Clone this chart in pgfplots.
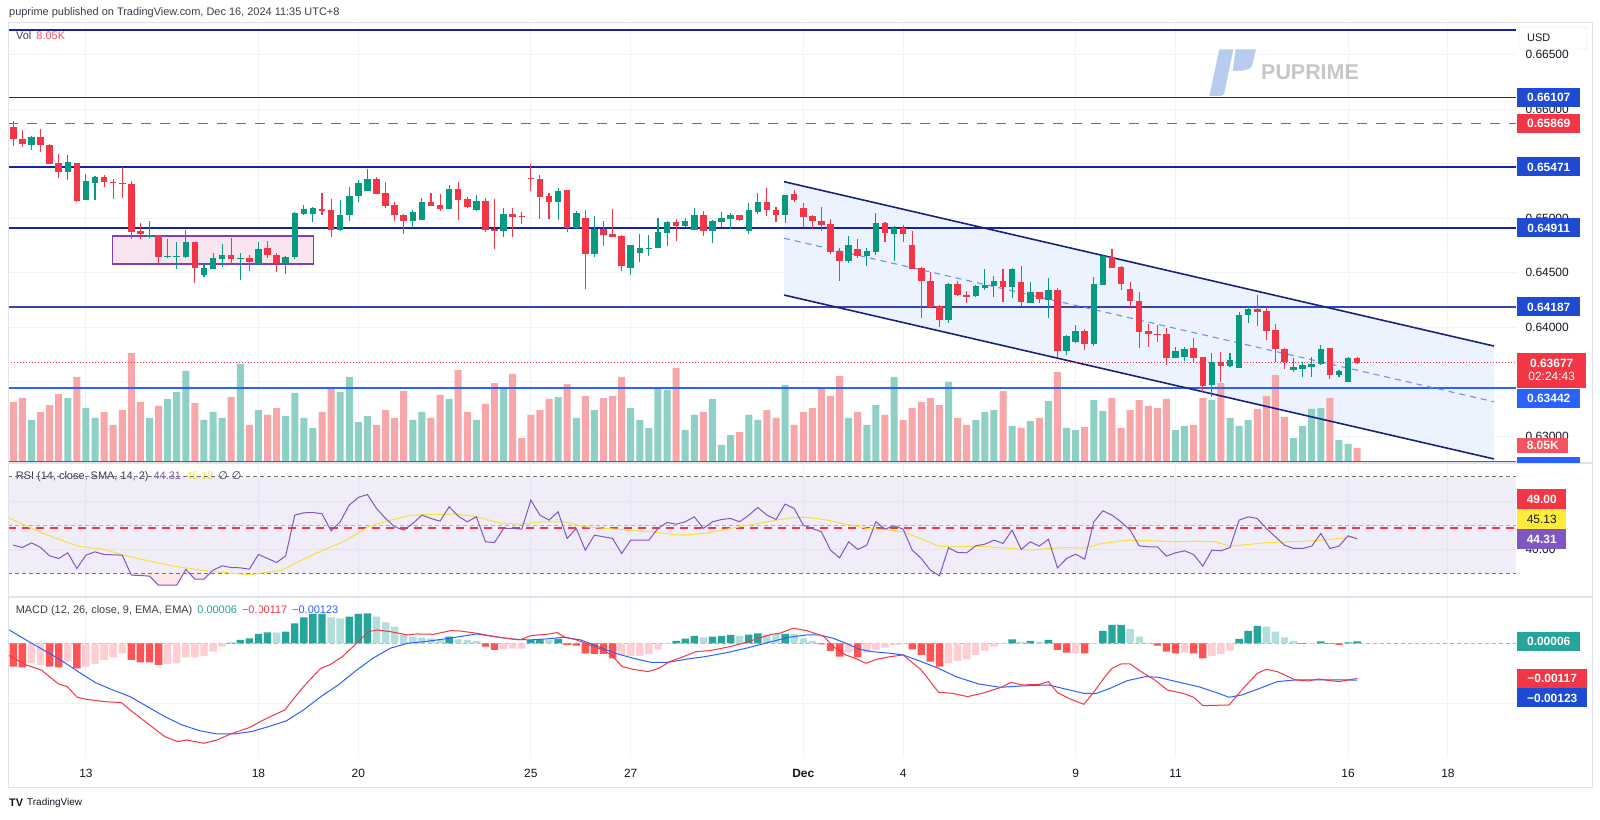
\documentclass[border=0pt]{standalone}
\usepackage{fontspec}
\setmainfont{Liberation Sans}
\newfontfamily\djv{DejaVu Sans}
\usepackage{pgfplots}
\pgfplotsset{compat=1.18}
\usepackage{pgfplotstable}

\definecolor{cgreen}{HTML}{089981}
\definecolor{cred}{HTML}{F23645}
\definecolor{volred}{HTML}{F7A6A9}
\definecolor{volgreen}{HTML}{8ED0C6}
\definecolor{gridc}{HTML}{F0F3FA}
\definecolor{framec}{HTML}{E0E3EB}
\definecolor{textc}{HTML}{131722}
\definecolor{legc}{HTML}{3B3E48}
\definecolor{navyline}{HTML}{1523A8}
\definecolor{navylbl}{HTML}{1E4BD2}
\definecolor{brightblue}{HTML}{2962FF}
\definecolor{chanline}{HTML}{1A237E}
\definecolor{chanfill}{HTML}{EDF3FE}
\definecolor{chanmid}{HTML}{6F8FF5}
\definecolor{boxfill}{HTML}{F8E4EE}
\definecolor{boxline}{HTML}{7B3FC4}
\definecolor{rsipurple}{HTML}{7E57C2}
\definecolor{rsiyellow}{HTML}{F5E13A}
\definecolor{lblyellow}{HTML}{FFEB3B}
\definecolor{histT}{HTML}{26A69A}
\definecolor{histL}{HTML}{B2DFDB}
\definecolor{histR}{HTML}{FF5252}
\definecolor{histP}{HTML}{FFCDD2}
\definecolor{wmicon}{HTML}{B7CCEE}
\definecolor{wmtext}{HTML}{C6C6C6}
\definecolor{volbox}{HTML}{F7525F}

% i: candle number (4h bars), O H L C: prices, V: volume in K
\pgfplotstableread{
i O H L C V
0 0.65832 0.65893 0.65664 0.65731 32.7
1 0.65725 0.65810 0.65657 0.65688 34.9
2 0.65679 0.65755 0.65627 0.65743 23.1
3 0.65740 0.65823 0.65612 0.65673 27.4
4 0.65670 0.65679 0.65500 0.65502 31.1
5 0.65505 0.65587 0.65370 0.65431 37.0
6 0.65431 0.65578 0.65349 0.65517 34.9
7 0.65502 0.65502 0.65150 0.65165 46.2
8 0.65174 0.65404 0.65168 0.65336 29.5
9 0.65324 0.65388 0.65168 0.65379 24.2
10 0.65376 0.65401 0.65291 0.65333 27.4
11 0.65330 0.65364 0.65180 0.65327 20.4
12 0.65321 0.65471 0.65187 0.65318 28.4
13 0.65309 0.65339 0.64813 0.64875 59.0
14 0.64881 0.64960 0.64813 0.64862 32.7
15 0.64832 0.64976 0.64820 0.64844 24.2
16 0.64844 0.64844 0.64587 0.64648 30.6
17 0.64648 0.64807 0.64639 0.64651 34.4
18 0.64646 0.64783 0.64538 0.64649 38.1
19 0.64648 0.64890 0.64639 0.64783 49.4
20 0.64783 0.64783 0.64410 0.64550 32.2
21 0.64483 0.64584 0.64462 0.64538 23.1
22 0.64541 0.64685 0.64532 0.64630 27.4
23 0.64627 0.64761 0.64557 0.64664 24.2
24 0.64664 0.64817 0.64578 0.64627 35.4
25 0.64630 0.64685 0.64434 0.64633 53.1
26 0.64633 0.64664 0.64517 0.64606 20.4
27 0.64584 0.64786 0.64572 0.64716 28.4
28 0.64728 0.64792 0.64633 0.64664 25.8
29 0.64661 0.64679 0.64508 0.64593 29.5
30 0.64593 0.64655 0.64486 0.64645 25.2
31 0.64645 0.65061 0.64630 0.65046 37.6
32 0.65043 0.65119 0.65027 0.65080 24.2
33 0.65040 0.65104 0.64966 0.65089 18.8
34 0.65083 0.65235 0.65034 0.65070 27.4
35 0.65073 0.65180 0.64828 0.64893 40.3
36 0.64893 0.65168 0.64884 0.65030 38.1
37 0.65030 0.65287 0.64976 0.65205 46.2
38 0.65205 0.65349 0.65150 0.65321 22.0
39 0.65254 0.65450 0.65248 0.65358 25.2
40 0.65358 0.65382 0.65220 0.65229 20.4
41 0.65229 0.65333 0.65095 0.65116 28.4
42 0.65116 0.65153 0.64979 0.65030 24.2
43 0.65027 0.65040 0.64853 0.64982 38.6
44 0.64982 0.65073 0.64914 0.65055 23.1
45 0.64988 0.65190 0.64982 0.65150 27.4
46 0.65150 0.65235 0.65113 0.65116 24.2
47 0.65116 0.65220 0.65067 0.65092 36.5
48 0.65092 0.65303 0.65083 0.65263 34.4
49 0.65263 0.65333 0.64982 0.65168 49.9
50 0.65174 0.65199 0.65092 0.65107 27.4
51 0.65076 0.65211 0.65070 0.65156 23.1
52 0.65156 0.65187 0.64878 0.64893 31.7
53 0.64896 0.65180 0.64716 0.64884 42.9
54 0.64884 0.65092 0.64829 0.65037 40.8
55 0.65037 0.65092 0.64829 0.65012 47.8
56 0.65016 0.65061 0.64945 0.65014 13.4
57 0.65367 0.65502 0.65251 0.65361 25.8
58 0.65358 0.65400 0.64991 0.65196 28.4
59 0.65199 0.65232 0.64991 0.65150 34.4
60 0.65150 0.65278 0.64982 0.65248 35.4
61 0.65257 0.65257 0.64875 0.64911 42.4
62 0.64911 0.65064 0.64905 0.65049 24.2
63 0.65000 0.65076 0.64348 0.64679 36.0
64 0.64676 0.65024 0.64648 0.64896 28.4
65 0.64896 0.64976 0.64746 0.64853 34.9
66 0.64853 0.65083 0.64829 0.64829 36.0
67 0.64832 0.64844 0.64514 0.64563 46.2
68 0.64550 0.64752 0.64480 0.64752 29.5
69 0.64685 0.64853 0.64596 0.64725 23.1
70 0.64725 0.64844 0.64654 0.64728 18.8
71 0.64734 0.65006 0.64728 0.64868 40.3
72 0.64868 0.64976 0.64743 0.64960 39.2
73 0.64960 0.64991 0.64795 0.64936 51.0
74 0.64936 0.65000 0.64923 0.64970 17.7
75 0.64893 0.65092 0.64893 0.65031 25.8
76 0.65031 0.65070 0.64838 0.64887 27.4
77 0.64887 0.64985 0.64771 0.64970 34.4
78 0.64966 0.65061 0.64923 0.65000 9.7
79 0.64997 0.65046 0.64905 0.65024 15.0
80 0.65024 0.65030 0.64979 0.64985 16.6
81 0.64887 0.65143 0.64856 0.65076 25.8
82 0.65058 0.65235 0.65036 0.65143 23.1
83 0.65143 0.65275 0.65021 0.65076 28.4
84 0.65070 0.65100 0.64966 0.65030 24.2
85 0.65030 0.65217 0.64960 0.65208 41.9
86 0.65220 0.65260 0.65153 0.65168 20.4
87 0.65092 0.65137 0.64924 0.65015 27.4
88 0.65015 0.65030 0.64899 0.64979 29.5
89 0.64970 0.65107 0.64887 0.64942 39.7
90 0.64945 0.64994 0.64670 0.64694 36.0
91 0.64700 0.64725 0.64428 0.64608 46.7
92 0.64608 0.64840 0.64587 0.64752 24.2
93 0.64719 0.64807 0.64639 0.64654 27.4
94 0.64654 0.64731 0.64560 0.64700 20.4
95 0.64690 0.65046 0.64660 0.64954 31.1
96 0.64954 0.64969 0.64783 0.64868 25.8
97 0.64856 0.64929 0.64611 0.64908 46.2
98 0.64908 0.64936 0.64786 0.64856 23.1
99 0.64755 0.64884 0.64532 0.64538 29.5
100 0.64538 0.64550 0.64089 0.64425 32.7
101 0.64425 0.64508 0.64174 0.64190 34.9
102 0.64190 0.64205 0.63999 0.64073 31.1
103 0.64073 0.64410 0.64037 0.64394 43.5
104 0.64394 0.64428 0.64287 0.64297 24.2
105 0.64294 0.64333 0.64220 0.64284 20.4
106 0.64287 0.64385 0.64275 0.64373 23.1
107 0.64367 0.64532 0.64342 0.64388 27.4
108 0.64382 0.64474 0.64281 0.64425 28.4
109 0.64425 0.64532 0.64235 0.64373 38.6
110 0.64373 0.64547 0.64269 0.64532 19.9
111 0.64416 0.64563 0.64196 0.64232 18.8
112 0.64229 0.64419 0.64220 0.64321 22.5
113 0.64321 0.64327 0.64226 0.64263 24.2
114 0.64257 0.64449 0.64083 0.64342 33.3
115 0.64342 0.64358 0.63731 0.63786 48.8
116 0.63786 0.63930 0.63746 0.63914 18.8
117 0.63870 0.64021 0.63860 0.63960 17.7
118 0.63960 0.63982 0.63792 0.63853 19.3
119 0.63853 0.64465 0.63829 0.64394 33.8
120 0.64394 0.64664 0.64388 0.64648 27.9
121 0.64642 0.64716 0.64541 0.64550 34.9
122 0.64547 0.64563 0.64343 0.64398 18.8
123 0.64352 0.64419 0.64174 0.64242 28.4
124 0.64242 0.64327 0.63807 0.63960 33.8
125 0.63963 0.64030 0.63817 0.63942 30.6
126 0.63940 0.64021 0.63869 0.63936 29.5
127 0.63939 0.63991 0.63654 0.63725 34.4
128 0.63725 0.63823 0.63716 0.63777 17.7
129 0.63731 0.63823 0.63694 0.63801 19.9
130 0.63810 0.63899 0.63676 0.63722 20.4
131 0.63722 0.63731 0.63404 0.63465 34.9
132 0.63471 0.63768 0.63364 0.63679 33.8
133 0.63679 0.63777 0.63495 0.63648 42.9
134 0.63648 0.63768 0.63633 0.63694 24.2
135 0.63630 0.64144 0.63630 0.64113 19.9
136 0.64113 0.64196 0.64037 0.64168 23.1
137 0.64168 0.64297 0.64012 0.64144 29.0
138 0.64144 0.64183 0.63884 0.63969 36.0
139 0.63975 0.64030 0.63679 0.63801 47.2
140 0.63801 0.63807 0.63615 0.63685 24.7
141 0.63609 0.63716 0.63587 0.63630 13.4
142 0.63624 0.63685 0.63547 0.63648 19.9
143 0.63639 0.63730 0.63547 0.63664 29.0
144 0.63664 0.63838 0.63654 0.63801 29.5
145 0.63807 0.63813 0.63523 0.63569 34.9
146 0.63569 0.63608 0.63541 0.63593 12.3
147 0.63502 0.63731 0.63495 0.63716 10.2
148 0.63716 0.63731 0.63660 0.63677 8.05
}\candles

\pgfplotstableread{
i r
0 41.75
1 40.78
2 42.71
3 40.78
4 37.32
5 36.22
6 38.57
7 32.07
8 37.60
9 38.98
10 37.88
11 37.74
12 37.60
13 29.31
14 29.17
15 28.89
16 25.16
17 25.16
18 25.16
19 31.66
20 27.65
21 27.65
22 31.38
23 33.18
24 32.49
25 32.35
26 31.80
27 37.88
28 36.22
29 34.56
30 37.32
31 54.19
32 55.15
33 55.29
34 54.74
35 47.69
36 51.42
37 58.33
38 61.51
39 62.75
40 56.95
41 52.80
42 49.35
43 47.97
44 50.73
45 54.19
46 52.80
47 51.70
48 57.64
49 53.77
50 51.42
51 53.49
52 43.13
53 42.85
54 48.66
55 48.66
56 48.38
57 60.40
58 54.19
59 52.11
60 55.57
61 44.51
62 48.66
63 39.67
64 45.89
65 45.20
66 44.51
67 38.29
68 43.82
69 43.82
70 43.82
71 48.66
72 51.14
73 50.45
74 51.42
75 53.49
76 48.66
77 51.42
78 52.39
79 52.80
80 51.42
81 54.19
82 57.36
83 54.19
84 52.39
85 58.75
86 56.95
87 50.04
88 48.66
89 47.28
90 39.67
91 36.50
92 43.13
93 39.95
94 41.75
95 51.42
96 48.38
97 49.76
98 48.38
99 39.67
100 36.22
101 31.38
102 29.03
103 40.64
104 38.71
105 38.57
106 41.47
107 42.16
108 43.82
109 42.44
110 47.97
111 39.95
112 43.13
113 41.33
114 44.23
115 32.35
116 36.22
117 38.02
118 35.94
119 51.42
120 55.98
121 54.19
122 51.42
123 47.97
124 41.47
125 41.06
126 41.06
127 37.19
128 38.57
129 39.40
130 37.88
131 33.04
132 39.67
133 39.40
134 40.78
135 52.11
136 53.49
137 52.80
138 48.66
139 45.20
140 41.75
141 40.37
142 40.37
143 41.33
144 46.58
145 40.37
146 41.33
147 45.62
148 44.31
}\rsi

\pgfplotstableread{
i s
-0.58 53.2
3.3 46.58
7.1 41.33
10 39.95
12.9 36.91
17.6 33.04
21.5 30.97
25.3 29.72
26.2 29.59
29.6 31.38
31.96 35.94
34.3 39.95
36.7 43.82
39.1 49.35
41.5 52.11
43.9 54.19
46.3 54.46
48.7 54.60
51.1 53.49
53.5 51.00
55.8 50.45
58.2 51.42
60.6 51.42
63 49.35
65.4 48.66
67.8 47.97
70.2 47.28
73.4 45.89
76.2 46.58
78.6 48.38
81 50.04
84 52.11
85.9 53.22
87.4 53.22
89.3 52.39
91.7 50.45
94.1 48.66
96.6 47.97
98 47.28
99.9 44.51
101.9 41.33
103.8 41.06
106.3 41.33
110.1 40.37
112.1 39.67
114 40.37
116 40.78
117.9 40.50
119.8 42.44
122.7 43.82
125.6 43.54
128 43.13
130.5 43.40
132.4 43.13
133.9 41.33
135.3 41.75
137.8 42.71
140.2 43.13
142.6 43.40
145 44.10
146.9 44.93
148 45.13
}\rsisma

\pgfplotstableread{
i m
-0.58 -0.000389
1.4 -0.000722
3.07 -0.000889
4.98 -0.001356
5.94 -0.001444
7.04 -0.001800
8.09 -0.001867
10 -0.001944
11.9 -0.001978
12.86 -0.002222
14.77 -0.002667
16.68 -0.003111
18.12 -0.003278
19.07 -0.003222
20.98 -0.003333
22.42 -0.003222
24.32 -0.002978
26 -0.002811
27.2 -0.002611
28.14 -0.002467
29.9 -0.002222
31 -0.001800
31.96 -0.001444
33.87 -0.000833
34.83 -0.000722
36.26 -0.000444
38.17 0.000111
39.13 0.000389
40.08 0.000444
41.5 0.000389
43.4 0.000278
44.4 0.000311
46.3 0.000300
48.2 0.000422
49.16 0.000411
51.07 0.000333
53.46 0.000200
55.8 0.000111
57 0.000256
58.7 0.000300
59.9 0.000356
60.6 0.000222
62.05 0.000111
63.5 -0.000056
64.9 -0.000222
65.87 -0.000389
67.06 -0.000778
68.26 -0.000867
69.9 -0.000944
71.1 -0.000833
72.3 -0.000611
73.8 -0.000444
75.2 -0.000278
76.7 -0.000244
78.6 -0.000133
80.1 -0.000022
81.5 0.000111
83.5 0.000300
84.4 0.000333
85.9 0.000500
87.4 0.000422
89.3 0.000222
90.3 -0.000111
91.7 -0.000389
92.7 -0.000500
93.9 -0.000667
95.1 -0.000533
96.6 -0.000444
98 -0.000389
100 -0.000889
101.9 -0.001633
103.4 -0.001667
105.1 -0.001778
106.7 -0.001667
108.7 -0.001478
109.9 -0.001300
111.1 -0.001389
113 -0.001367
114 -0.001278
115 -0.001644
116.4 -0.001856
117.9 -0.002033
118.9 -0.001667
120.1 -0.001167
121 -0.000833
122 -0.000689
123 -0.000689
124.2 -0.000944
125.7 -0.001222
127.1 -0.001556
128.8 -0.001667
130 -0.001800
131 -0.002078
133.9 -0.002056
135.3 -0.001556
137 -0.001000
138 -0.000867
139.2 -0.000944
141.2 -0.001222
142.6 -0.001256
143.8 -0.001189
145 -0.001244
146 -0.001278
148 -0.001170
}\macdline

\pgfplotstableread{
i m
-0.58 0.000467
1.4 0.000111
3.31 -0.000222
5.22 -0.000556
7.13 -0.000944
9.04 -0.001311
10.95 -0.001556
12.86 -0.001778
14.77 -0.002111
16.68 -0.002444
18.59 -0.002722
20.5 -0.002911
22.4 -0.003022
24.3 -0.003022
26.2 -0.002944
28.1 -0.002778
30.06 -0.002589
31.96 -0.002222
33.87 -0.001778
35.78 -0.001389
37.7 -0.000922
39.6 -0.000500
41.5 -0.000167
43.4 0.000000
45.3 0.000056
47.2 0.000133
49.2 0.000222
51.07 0.000311
53 0.000222
54.9 0.000144
56.8 0.000111
58.7 0.000144
60.6 0.000200
62.5 0.000111
64.4 -0.000111
66.3 -0.000333
68.3 -0.000500
70.2 -0.000633
72.1 -0.000633
74.3 -0.000522
76.2 -0.000444
78.6 -0.000311
81 -0.000144
83.5 0.000056
85.4 0.000200
87.4 0.000278
88.8 0.000278
90.3 0.000167
91.7 0.000000
93.2 -0.000200
94.6 -0.000278
96.6 -0.000333
98 -0.000389
100 -0.000611
101.9 -0.000833
103.8 -0.001111
106.3 -0.001356
108.7 -0.001467
111.1 -0.001422
114 -0.001389
116 -0.001533
117.9 -0.001667
119.3 -0.001667
120.8 -0.001500
122.7 -0.001244
124.7 -0.001111
126.1 -0.001133
128.1 -0.001278
130.5 -0.001444
132.4 -0.001633
133.9 -0.001800
135.3 -0.001722
137.3 -0.001500
139.2 -0.001278
141.2 -0.001222
143.1 -0.001222
145 -0.001222
147 -0.001222
148 -0.001230
}\signalline

% c: 0 rising above zero, 1 falling above zero, 2 falling below zero, 3 rising below zero
\pgfplotstableread{
i h c
0 -0.000778 2
1 -0.000800 2
2 -0.000667 3
3 -0.000722 3
4 -0.000778 2
5 -0.000800 2
6 -0.000611 3
7 -0.000833 2
8 -0.000778 3
9 -0.000689 3
10 -0.000556 3
11 -0.000467 3
12 -0.000333 3
13 -0.000556 2
14 -0.000633 2
15 -0.000633 2
16 -0.000722 2
17 -0.000689 3
18 -0.000667 3
19 -0.000467 3
20 -0.000467 3
21 -0.000422 3
22 -0.000278 3
23 -0.000111 3
24 0.000022 0
25 0.000111 0
26 0.000167 0
27 0.000311 0
28 0.000367 0
29 0.000356 1
30 0.000389 0
31 0.000667 0
32 0.000867 0
33 0.000978 0
34 0.000978 0
35 0.000867 1
36 0.000833 1
37 0.000889 0
38 0.000978 0
39 0.001000 0
40 0.000889 1
41 0.000700 1
42 0.000556 1
43 0.000278 1
44 0.000222 1
45 0.000189 1
46 0.000167 1
47 0.000133 1
48 0.000222 0
49 0.000133 1
50 0.000111 1
51 0.000078 1
52 -0.000111 2
53 -0.000222 2
54 -0.000200 3
55 -0.000178 3
56 -0.000178 3
57 0.000111 0
58 0.000133 0
59 0.000111 1
60 0.000144 0
61 -0.000056 2
62 -0.000078 2
63 -0.000333 2
64 -0.000356 2
65 -0.000356 2
66 -0.000500 2
67 -0.000389 3
68 -0.000422 3
69 -0.000422 3
70 -0.000356 3
71 -0.000200 3
72 -0.000022 3
73 0.000078 0
74 0.000156 0
75 0.000244 0
76 0.000200 1
77 0.000222 0
78 0.000244 0
79 0.000278 0
80 0.000244 1
81 0.000289 0
82 0.000333 0
83 0.000278 1
84 0.000311 1
85 0.000311 0
86 0.000311 1
87 0.000167 1
88 0.000078 1
89 -0.000033 2
90 -0.000256 2
91 -0.000444 2
92 -0.000300 3
93 -0.000467 2
94 -0.000311 3
95 -0.000222 3
96 -0.000144 3
97 -0.000056 3
98 -0.000033 3
99 -0.000200 2
100 -0.000389 2
101 -0.000611 2
102 -0.000778 2
103 -0.000667 3
104 -0.000589 3
105 -0.000533 3
106 -0.000389 3
107 -0.000244 3
108 -0.000111 3
109 -0.000022 3
110 0.000133 0
111 0.000044 1
112 0.000078 0
113 0.000044 1
114 0.000111 0
115 -0.000222 2
116 -0.000311 2
117 -0.000333 3
118 -0.000333 2
119 -0.000022 3
120 0.000411 0
121 0.000611 0
122 0.000611 0
123 0.000478 1
124 0.000222 1
125 0.000022 1
126 -0.000078 2
127 -0.000278 2
128 -0.000333 2
129 -0.000311 3
130 -0.000333 2
131 -0.000500 2
132 -0.000422 3
133 -0.000356 3
134 -0.000244 3
135 0.000144 0
136 0.000411 0
137 0.000578 0
138 0.000556 1
139 0.000389 1
140 0.000200 1
141 0.000078 1
142 -0.000022 2
143 -0.000022 3
144 0.000067 0
145 -0.000022 2
146 -0.000056 2
147 0.000033 0
148 0.000060 0
}\hist

\pgfplotsset{
  pane/.style={
    scale only axis, anchor=south west, width=1508bp,
    xmin=-0.584, xmax=165.5,
    axis line style={draw=none}, tick style={draw=none},
    xtick={8,27,38,57,68,87,98,117,128,147,158}, xticklabels={},
    xmajorgrids, ymajorgrids,
    major grid style={draw=gridc, line width=1bp},
    yticklabel pos=right,
    yticklabel style={font=\fontsize{12}{14}\selectfont, text=textc, xshift=6bp},
    clip=true,
  },
  candle/.style 2 args={draw=none, mark=none,
    error bars/.cd, y dir=plus, y explicit, error mark=none,
    error bar style={line width=#1, draw=#2}},
}
\tikzset{
  lbl/.style={anchor=west, inner xsep=0pt, inner ysep=0pt, minimum height=19bp,
    font=\bfseries\fontsize{12}{14}\selectfont, text=white},
}
\newcommand{\legfont}{\fontsize{11}{13}\selectfont}

\begin{document}
\begin{tikzpicture}[x=1bp,y=1bp]
\fill[white] (0,0) rectangle (1600,819);
\useasboundingbox (0,0) rectangle (1600,819);

\node[anchor=west, inner sep=0pt, font=\legfont, text=legc] at (9,806)
  {puprime published on TradingView.com, Dec 16, 2024 11:35 UTC+8};

% legends under the pane lines
\node[anchor=west, inner sep=0pt, font=\legfont] at (15.6,342)
  {\color{legc}RSI (14, close, SMA, 14, 2)\hspace{5bp}\color{rsipurple}44.31\hspace{5bp}\color{rsiyellow}45.13\hspace{5bp}\color{legc}{\djv ∅\hspace{4bp}∅}};
\node[anchor=west, inner sep=0pt, font=\legfont] at (15.6,208)
  {\color{legc}MACD (12, 26, close, 9, EMA, EMA)\hspace{5bp}\color{histT}0.00006\hspace{5bp}\color{cred}−0.00117\hspace{5bp}\color{brightblue}−0.00123};

% ---- price pane: grid, channel, box
\begin{axis}[pane, at={(8bp,356bp)}, height=440bp,
  ymin=0.62755, ymax=0.66792,
  ytick={0.63,0.635,0.64,0.645,0.65,0.655,0.66,0.665},
  yticklabels={0.63000,,0.64000,0.64500,0.65000,,0.66000,0.66500},
]
\addplot[fill=chanfill, draw=none] coordinates {(84.88,0.65336) (163.07,0.63828) (163.07,0.62792) (84.88,0.64296)} --cycle;
\addplot[fill=boxfill, draw=boxline, line width=1.5bp] coordinates {(10.9,0.64838) (33.04,0.64838) (33.04,0.64581) (10.9,0.64581)} --cycle;
\end{axis}

% watermark
\fill[wmicon] (1209.3,723) -- (1221,723) to[out=0,in=-100] (1224.5,727) -- (1233.3,769.7) -- (1219.3,769.7) -- cycle;
\fill[wmicon] (1235.7,769.7) -- (1256,769.7) -- (1252.3,754) to[out=-105,in=10] (1243,748.5)
  -- (1232.7,748) -- cycle;
\node[anchor=west, inner sep=0pt, text=wmtext, font=\bfseries\fontsize{21.5}{24}\selectfont]
  at (1261,746.3) {PUPRIME};

% ---- volume overlay
\begin{axis}[pane, at={(8bp,356bp)}, height=440bp, ymin=0, ymax=236.2, hide axis]
\addplot[ybar, bar width=7bp, bar shift=0pt, fill=volred, draw=none]
  table[x=i, y expr={\thisrow{C}<\thisrow{O} ? \thisrow{V} : nan}] {\candles};
\addplot[ybar, bar width=7bp, bar shift=0pt, fill=volgreen, draw=none]
  table[x=i, y expr={\thisrow{C}>=\thisrow{O} ? \thisrow{V} : nan}] {\candles};
\end{axis}

% ---- price pane: lines and candles
\begin{axis}[pane, at={(8bp,356bp)}, height=440bp,
  ymin=0.62755, ymax=0.66792, hide axis]
\addplot[navyline, line width=1.6bp] coordinates {(-0.584,0.66728) (165.5,0.66728)};
\addplot[navyline, line width=1.6bp] coordinates {(-0.584,0.66107) (165.5,0.66107)};
\addplot[cred, line width=1.6bp, dash pattern=on 10bp off 9bp] coordinates {(-0.584,0.65869) (165.5,0.65869)};
\addplot[navyline, line width=1.6bp] coordinates {(-0.584,0.65471) (165.5,0.65471)};
\addplot[navyline, line width=1.6bp] coordinates {(-0.584,0.64911) (165.5,0.64911)};
\addplot[navyline!85!white, line width=1.8bp] coordinates {(-0.584,0.64187) (165.5,0.64187)};
\addplot[brightblue, line width=1.8bp] coordinates {(-0.584,0.63442) (165.5,0.63442)};
\addplot[brightblue, line width=1.8bp] coordinates {(-0.584,0.62767) (165.5,0.62767)};
% channel
\addplot[chanline, line width=1.6bp] coordinates {(84.88,0.65336) (163.07,0.63828)};
\addplot[chanline, line width=1.6bp] coordinates {(84.88,0.64296) (163.07,0.62792)};
\addplot[chanmid, line width=1.1bp, dash pattern=on 6bp off 5bp] coordinates {(84.88,0.64817) (163.07,0.63317)};
% last price
\addplot[cred, line width=0.8bp, dash pattern=on 1bp off 2bp] coordinates {(-0.584,0.63677) (165.5,0.63677)};
% candles: wicks
\addplot[candle={1.1bp}{cgreen}]
  table[x=i, y expr={\thisrow{C}>=\thisrow{O} ? \thisrow{L} : nan}, y error plus expr={\thisrow{H}-\thisrow{L}}] {\candles};
\addplot[candle={1.1bp}{cred}]
  table[x=i, y expr={\thisrow{C}<\thisrow{O} ? \thisrow{L} : nan}, y error plus expr={\thisrow{H}-\thisrow{L}}] {\candles};
% candles: bodies
\addplot[candle={6.5bp}{cgreen}]
  table[x=i, y expr={\thisrow{C}>=\thisrow{O} ? \thisrow{O}-0.00003 : nan}, y error plus expr={\thisrow{C}-\thisrow{O}+0.00006}] {\candles};
\addplot[candle={6.5bp}{cred}]
  table[x=i, y expr={\thisrow{C}<\thisrow{O} ? \thisrow{C}-0.00003 : nan}, y error plus expr={\thisrow{O}-\thisrow{C}+0.00006}] {\candles};
\end{axis}

% ---- RSI pane
\begin{axis}[pane, at={(8bp,222bp)}, height=134bp,
  ymin=20.26, ymax=75.8, ytick={40,60}, yticklabels={40.00,},
]
\addplot[fill=rsipurple, fill opacity=0.1, draw=none] coordinates {(-0.584,30) (165.5,30) (165.5,70) (-0.584,70)} --cycle;
% oversold shading where the RSI drops under 30
\addplot[fill=cred, fill opacity=0.12, draw=none] coordinates {(12.92,30) (13,29.31) (14,29.17) (15,28.89) (16,25.16) (17,25.16) (18,25.16) (18.74,30)} --cycle;
\addplot[fill=cred, fill opacity=0.12, draw=none] coordinates {(19.5,30) (20,27.65) (21,27.65) (21.62,30)} --cycle;
\addplot[black!55, line width=1bp, dash pattern=on 4bp off 3bp] coordinates {(-0.584,70) (165.5,70)};
\addplot[black!55, line width=1bp, dash pattern=on 4bp off 3bp] coordinates {(-0.584,30) (165.5,30)};
\addplot[black!30, line width=1bp, dash pattern=on 4bp off 3bp] coordinates {(-0.584,50) (165.5,50)};
\addplot[cred, line width=1.8bp, dash pattern=on 8bp off 6bp] coordinates {(-0.584,49) (165.5,49)};
\addplot[rsiyellow, line width=1bp] table[x=i, y=s] {\rsisma};
\addplot[rsipurple, line width=1bp] table[x=i, y=r] {\rsi};
\end{axis}

% ---- MACD pane
\begin{axis}[pane, at={(8bp,62bp)}, height=160bp,
  ymin=-0.00379, ymax=0.001543, ytick={-0.002}, yticklabels={},
  scaled y ticks=false,
  xticklabels={13,18,20,25,27,\textbf{Dec},4,9,11,16,18},
  xticklabel style={anchor=center, yshift=-16bp, font=\fontsize{12}{14}\selectfont, text=textc},
]
\addplot[black!30, line width=1bp, dash pattern=on 4bp off 3bp] coordinates {(-0.584,0) (165.5,0)};
\addplot[ybar, bar width=7.4bp, bar shift=0pt, fill=histT, draw=none]
  table[x=i, y expr={\thisrow{c}==0 ? \thisrow{h} : nan}] {\hist};
\addplot[ybar, bar width=7.4bp, bar shift=0pt, fill=histL, draw=none]
  table[x=i, y expr={\thisrow{c}==1 ? \thisrow{h} : nan}] {\hist};
\addplot[ybar, bar width=7.4bp, bar shift=0pt, fill=histR, draw=none]
  table[x=i, y expr={\thisrow{c}==2 ? \thisrow{h} : nan}] {\hist};
\addplot[ybar, bar width=7.4bp, bar shift=0pt, fill=histP, draw=none]
  table[x=i, y expr={\thisrow{c}==3 ? \thisrow{h} : nan}] {\hist};
\addplot[brightblue, line width=1bp] table[x=i, y=m] {\signalline};
\addplot[cred, line width=1bp] table[x=i, y=m] {\macdline};
\end{axis}

% frame and pane separators
\draw[framec, line width=1bp] (8,31) rectangle (1592,796);
\draw[framec, line width=1.5bp] (8,356) -- (1592,356);
\draw[framec, line width=1.5bp] (8,222) -- (1592,222);

% pane legend on top
\node[anchor=west, inner sep=0pt, font=\legfont] at (16,783)
  {\color{legc}Vol\hspace{5bp}\color{volbox}8.05K};

% USD box
\draw[framec, fill=white, rounded corners=3bp] (1519,770) rectangle (1587,792);
\node[anchor=west, inner sep=0pt, font=\legfont, text=textc] at (1527,781) {USD};

% price scale labels
\node[lbl, fill=navylbl, minimum width=63bp] at (1517,721.2) {0.66107};
\node[lbl, fill=cred, minimum width=63bp] at (1517,695.7) {0.65869};
\node[lbl, fill=navylbl, minimum width=63bp] at (1517,652) {0.65471};
\node[lbl, fill=navylbl, minimum width=63bp] at (1517,591) {0.64911};
\node[lbl, fill=navylbl, minimum width=63bp] at (1517,512.1) {0.64187};
\node[lbl, fill=cred, minimum width=69bp, minimum height=35bp, align=center] at (1517,448.8)
  {0.63677\\[-1bp]{\mdseries 02:24:43}};
\node[lbl, fill=brightblue, minimum width=63bp] at (1517,420.2) {0.63442};
\fill[brightblue] (1517,356) rectangle (1580,361.7);
\node[lbl, fill=volbox, minimum width=51bp, minimum height=15bp] at (1517,373.2) {8.05K};

% RSI labels
\node[lbl, fill=cred, minimum width=49bp, minimum height=20bp] at (1517,319.7) {49.00};
\node[lbl, fill=lblyellow, text=textc, minimum width=49bp, minimum height=20bp] at (1517,299.7) {\mdseries 45.13};
\node[lbl, fill=rsipurple, minimum width=49bp, minimum height=20bp] at (1517,279.7) {44.31};

% MACD labels
\node[lbl, fill=histT, minimum width=63bp] at (1517,177.6) {0.00006};
\node[lbl, fill=cred, minimum width=70bp] at (1517,140.5) {−0.00117};
\node[lbl, fill=navylbl, minimum width=70bp] at (1517,121) {−0.00123};

% footer
\node[anchor=west, inner sep=0pt, font=\bfseries\fontsize{11}{13}\selectfont, text=textc] at (9,16) {TV};
\node[anchor=west, inner sep=0pt, font=\fontsize{10}{12}\selectfont, text=textc] at (27,16) {TradingView};
\end{tikzpicture}
\end{document}
